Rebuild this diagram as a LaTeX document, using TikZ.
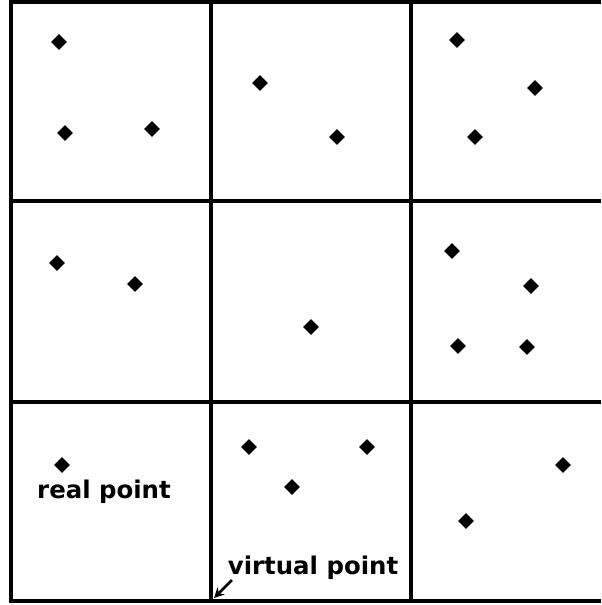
\documentclass[tikz,border=0pt]{standalone}
\usepackage{fontspec}
\setmainfont{DejaVu Sans}
\usetikzlibrary{arrows.meta}
\begin{document}
\begin{tikzpicture}[x=0.5pt,y=-0.5pt,
  gridline/.style={line width=1.6pt,black},
  pt/.style={fill=black,draw=none,inner sep=0pt,minimum size=5.6pt,shape=rectangle,rotate=45},
  lbl/.style={font=\bfseries\fontsize{12.2}{14}\selectfont,inner sep=0pt}]
\useasboundingbox (0,0) rectangle (601,605);
% grid
\coordinate (tl) at (11,2);
\coordinate (bl) at (11,601);
\coordinate (tr) at (601,2);
\coordinate (br) at (601,601);
\coordinate (v1t) at (211,2);
\coordinate (v1b) at (211,601);
\coordinate (v2t) at (411,2);
\coordinate (v2b) at (411,601);
\coordinate (h1l) at (11,201);
\coordinate (h1r) at (601,201);
\coordinate (h2l) at (11,402);
\coordinate (h2r) at (601,402);
\draw[gridline] (tr) -- (tl) -- (bl) -- (br);
\draw[gridline] (v1t) -- (v1b);
\draw[gridline] (v2t) -- (v2b);
\draw[gridline] (h1l) -- (h1r);
\draw[gridline] (h2l) -- (h2r);
% points
\node[pt] (p1) at (59,42) {};
\node[pt] (p2) at (65,133) {};
\node[pt] (p3) at (152,129) {};
\node[pt] (p4) at (260,83) {};
\node[pt] (p5) at (337,137) {};
\node[pt] (p6) at (457,40) {};
\node[pt] (p7) at (535,88) {};
\node[pt] (p8) at (475,137) {};
\node[pt] (p9) at (57,263) {};
\node[pt] (p10) at (135,284) {};
\node[pt] (p11) at (311,327) {};
\node[pt] (p12) at (452,251) {};
\node[pt] (p13) at (531,286) {};
\node[pt] (p14) at (458,346) {};
\node[pt] (p15) at (527,347) {};
\node[pt] (p16) at (62,465) {};
\node[pt] (p17) at (249,447) {};
\node[pt] (p18) at (367,447) {};
\node[pt] (p19) at (292,487) {};
\node[pt] (p20) at (563,465) {};
\node[pt] (p21) at (466,521) {};
% labels
\node[lbl] (real) at (104,492) {real point};
\node[lbl] (virt) at (313,568) {virtual point};
\coordinate (corner) at (214,598);
\coordinate (astart) at (232,580);
\draw[line width=1.4pt,-{Stealth[length=5pt,width=5pt]}] (astart) -- (corner);
\end{tikzpicture}
\end{document}
